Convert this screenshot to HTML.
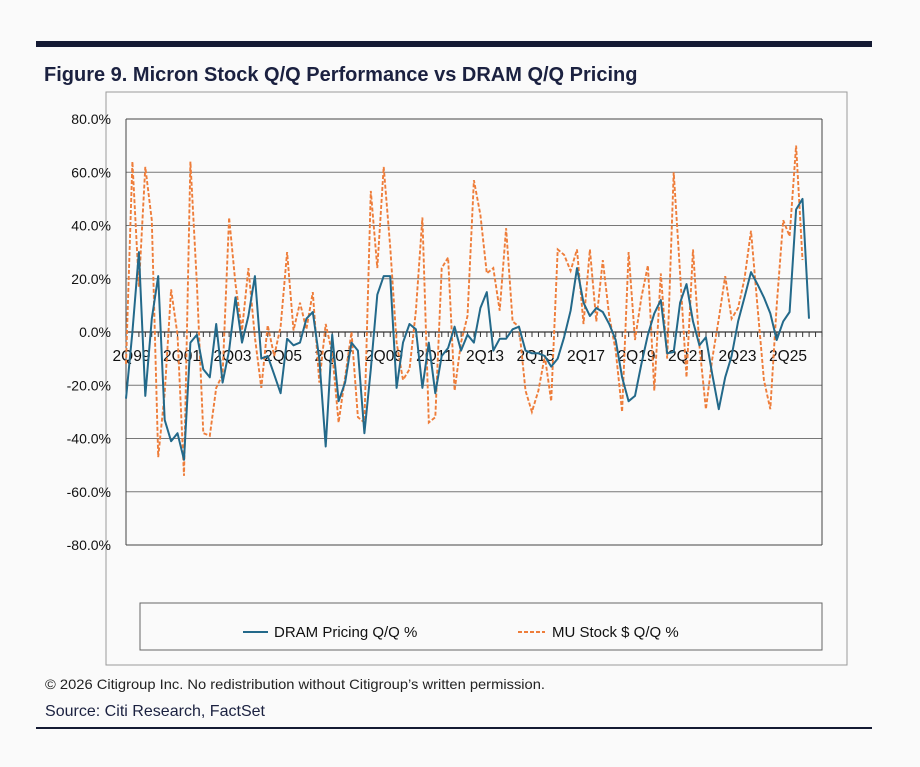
<!DOCTYPE html>
<html><head><meta charset="utf-8"><style>
body{margin:0;background:#fafafa;width:920px;height:762px;overflow:hidden;font-family:"Liberation Sans",sans-serif}
</style></head><body>
<svg width="920" height="762" xmlns="http://www.w3.org/2000/svg">
<rect x="0" y="0" width="920" height="762" fill="#fafafa"/>
<rect x="36" y="41" width="836" height="6" fill="#141a33"/>
<text x="44" y="81" font-size="20" font-weight="bold" fill="#1b2140">Figure 9. Micron Stock Q/Q Performance vs DRAM Q/Q Pricing</text>
<rect x="106" y="92" width="741" height="573" fill="#fafafa" stroke="#9a9a9a" stroke-width="1"/>
<g id="grid"></g>
<g id="yaxis"></g>
<g id="xaxis"></g>
<g id="series"></g>
<rect x="140" y="603" width="682" height="47" fill="#fafafa" stroke="#666" stroke-width="1"/>
<g>
<line x1="243" y1="632" x2="268" y2="632" stroke="#23698a" stroke-width="2"/>
<text x="274" y="637" font-size="15" fill="#111">DRAM Pricing Q/Q %</text>
</g>
<g>
<line x1="518" y1="632" x2="545" y2="632" stroke="#ee7d3a" stroke-width="2" stroke-dasharray="4,2"/>
<text x="552" y="637" font-size="15" fill="#111">MU Stock $ Q/Q %</text>
</g>
<text x="45" y="689" font-size="14" fill="#222" textLength="500" lengthAdjust="spacingAndGlyphs">© 2026 Citigroup Inc. No redistribution without Citigroup’s written permission.</text>
<text x="45" y="716" font-size="16" fill="#1b2140" textLength="220" lengthAdjust="spacingAndGlyphs">Source: Citi Research, FactSet</text>
<rect x="36" y="727" width="836" height="2" fill="#141a33"/>
</svg>
<script>
const yTicks=[80,60,40,20,0,-20,-40,-60,-80];
const xLabels=["2Q99","2Q01","2Q03","2Q05","2Q07","2Q09","2Q11","2Q13","2Q15","2Q17","2Q19","2Q21","2Q23","2Q25"];
const dram=[-25,0,30,-24,5,21,-33,-41,-38,-48,-4,-1,-14,-17,3,-19,-7,13,-4,6,21,-10,-9,-16,-23,-2.5,-5,-4,5,7.5,-10,-43,-1,-26,-19,-4,-7,-38,-14,14,21,21,-21,-4,3,1,-21,-4,-23,-9,-6,2,-7,-1,-4,9,15,-7,-2.5,-2.5,1,2,-7,-8,-8,-9,-13,-10,-2,8,24,11,6,9,7.5,3,-3,-17,-26,-24,-12,-1,7,12,-8,-7.5,11,18,4,-5,-2,-16,-29,-17,-9,4,13,22.5,18,13,7,-3,4,7.5,46,50,5];
const mu=[-12,64,17,62,42,-47,-23,16,-1,-54,64,18,-38,-39,-21,-16,43,18,0.6,24,-2,-21,2.5,-9,2,30,0.6,11,1,15,-19,3,-8,-34,-17,0,-32,-34,53,24,62,32,-4,-18,-14,8,43,-34,-32,24,28,-22,-4,6,57,44,22,24,8,39,4,2,-22,-30,-22,-9,-26,31,29,23,31,3,31,4,27,6,-7,-30,30,-3,13,25,-22,22,-10,60,22,-17,31,-5,-29,-10,5,21,5,9,20,38,10,-18,-29,10,42,36,70,27];
const NS="http://www.w3.org/2000/svg";
const L=126,R=822,T=119,B=545,DX=6.443;
function y(v){return T+(80-v)/160*(B-T);}
function x(i){return L+i*DX;}
function mk(t,a,p){const e=document.createElementNS(NS,t);for(const k in a)e.setAttribute(k,a[k]);p.appendChild(e);return e;}
const grid=document.getElementById('grid'),ya=document.getElementById('yaxis'),xa=document.getElementById('xaxis'),se=document.getElementById('series');
yTicks.forEach(v=>{
 const g=mk('line',{x1:L,x2:R,y1:y(v),y2:y(v),stroke:(v==80||v==-80)?'#444':'#777','stroke-width':1},grid);
 
 
 const t=mk('text',{x:L-15,y:y(v)+5,'text-anchor':'end','font-size':14,fill:'#111'},ya);
 t.textContent=v.toFixed(1)+'%';
 
 
});
mk('line',{x1:L,x2:L,y1:T,y2:B,stroke:'#444','stroke-width':1},ya);
mk('line',{x1:R,x2:R,y1:T,y2:B,stroke:'#444','stroke-width':1},ya);
const zy=y(0);
mk('line',{x1:L,x2:R,y1:zy,y2:zy,stroke:'#333','stroke-width':1.2},xa);
for(let i=0;i<=108;i++){const tx=L+i*(R-L)/108;mk('line',{x1:tx,x2:tx,y1:zy,y2:zy+5,stroke:'#333','stroke-width':1},xa);}
xLabels.forEach((s,k)=>{
 const cx=131.5+(k*8/104)*(788-131.5);
 const t=mk('text',{x:cx,y:zy+29,'text-anchor':'middle','font-size':15.5,fill:'#111'},xa);
 t.textContent=s;
 
 
});
function path(arr){return arr.map((v,i)=>(i?'L':'M')+x(i).toFixed(1)+','+y(v).toFixed(1)).join('');}
const pm=mk('path',{d:path(mu),fill:'none',stroke:'#ee7d3a','stroke-width':1.9,'stroke-dasharray':'4,2'},se);


const pd=mk('path',{d:path(dram),fill:'none',stroke:'#23698a','stroke-width':2,'stroke-linejoin':'round'},se);


</script>
</body></html>
